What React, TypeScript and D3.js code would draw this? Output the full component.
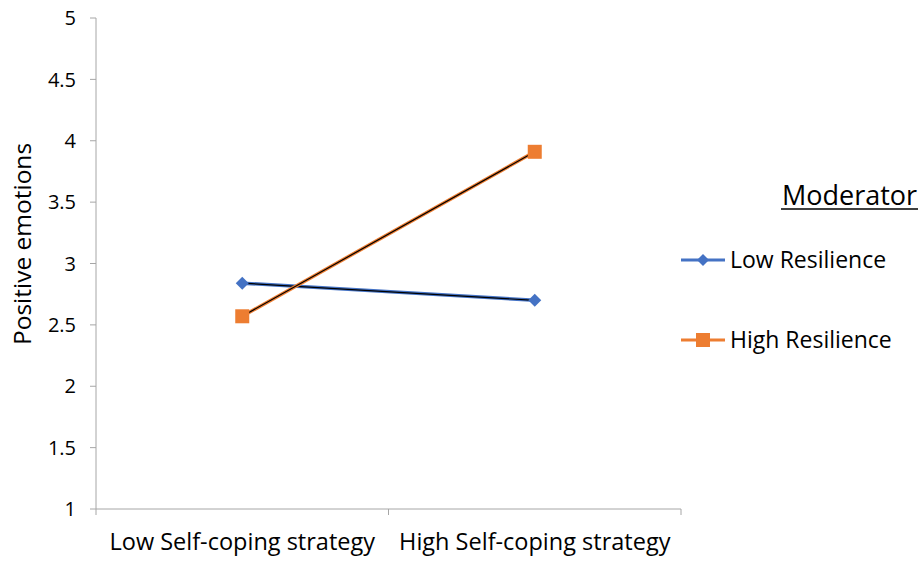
import React from "react";
import * as d3 from "d3";

const categories = ["Low Self-coping strategy", "High Self-coping strategy"];
const lowResilience = [2.84, 2.7];
const highResilience = [2.57, 3.91];
const yTicks = [1, 1.5, 2, 2.5, 3, 3.5, 4, 4.5, 5];
const seriesNames = ["Low Resilience", "High Resilience"];
const legendTitle = "Moderator";
const yTitle = "Positive emotions";

const FONT = "'Open Sans', 'Liberation Sans', sans-serif";

export default function App() {
  const W = 921, H = 561;
  const left = 96, right = 681, top = 18, bottom = 509;
  const x = d3.scaleBand().domain(categories).range([left, right]);
  const y = d3.scaleLinear().domain([1, 5]).range([bottom, top]);
  const cx = (c: string) => (x(c) as number) + x.bandwidth() / 2;
  const line = d3.line<number>().x((_, i) => cx(categories[i])).y((v) => y(v));
  const blue = "#4472C4";
  const orange = "#ED7D31";
  const axisColor = "#A6A6A6";

  const diamond = (px: number, py: number, r: number) =>
    `M${px},${py - r}L${px + r},${py}L${px},${py + r}L${px - r},${py}Z`;

  return (
    <svg width={W} height={H} style={{ position: "absolute", left: 0, top: 0, background: "#fff" }}>
      <rect width={W} height={H} fill="#fff" />
      {/* y axis */}
      <line x1={left} x2={left} y1={top} y2={bottom} stroke={axisColor} strokeWidth={1} />
      {yTicks.map((t) => (
        <g key={t}>
          <line x1={left - 6} x2={left} y1={y(t)} y2={y(t)} stroke={axisColor} />
          <text x={76} y={y(t)} dy="0.36em" textAnchor="end" fontFamily={FONT} fontSize={20} fill="#000">
            {t}
          </text>
        </g>
      ))}
      {/* x axis */}
      <line x1={left} x2={right} y1={bottom} y2={bottom} stroke={axisColor} strokeWidth={1} />
      {[left, left + x.bandwidth(), right].map((px, i) => (
        <line key={i} x1={px} x2={px} y1={bottom} y2={bottom + 6} stroke={axisColor} />
      ))}
      {categories.map((c) => (
        <text key={c} x={cx(c)} y={550} textAnchor="middle" fontFamily={FONT} fontSize={23.5} fill="#000">
          {c}
        </text>
      ))}
      <text
        transform={`translate(31,${244}) rotate(-90)`}
        textAnchor="middle"
        fontFamily={FONT}
        fontSize={24.5}
        fill="#000"
      >
        {yTitle}
      </text>

      {/* series lines */}
      <path d={line(lowResilience) as string} fill="none" stroke={blue} strokeWidth={3.5} />
      <path d={line(lowResilience) as string} fill="none" stroke="#000" strokeWidth={1.2} />
      <path d={line(highResilience) as string} fill="none" stroke={orange} strokeWidth={3.5} />
      <path d={line(highResilience) as string} fill="none" stroke="#000" strokeWidth={1.2} />

      {lowResilience.map((v, i) => (
        <path key={"d" + i} d={diamond(cx(categories[i]), y(v), 6.5)} fill={blue} />
      ))}
      {highResilience.map((v, i) => (
        <rect key={"s" + i} x={cx(categories[i]) - 7} y={y(v) - 7} width={14} height={14} fill={orange} />
      ))}

      {/* legend */}
      <text x={849.5} y={205} textAnchor="middle" fontFamily={FONT} fontSize={27} fill="#000">
        {legendTitle}
      </text>
      <line x1={781} x2={918} y1={209} y2={209} stroke="#000" strokeWidth={1.6} />
      {seriesNames.map((n, i) => {
        const ly = 260 + i * 80;
        const col = i === 0 ? blue : orange;
        return (
          <g key={n}>
            <line x1={681} x2={725} y1={ly} y2={ly} stroke={col} strokeWidth={3} />
            {i === 0 ? (
              <path d={diamond(703, ly, 6)} fill={col} />
            ) : (
              <rect x={696} y={ly - 7} width={14} height={14} fill={col} />
            )}
            <text x={730} y={ly} dy="0.36em" fontFamily={FONT} fontSize={23} fill="#000">
              {n}
            </text>
          </g>
        );
      })}
    </svg>
  );
}
